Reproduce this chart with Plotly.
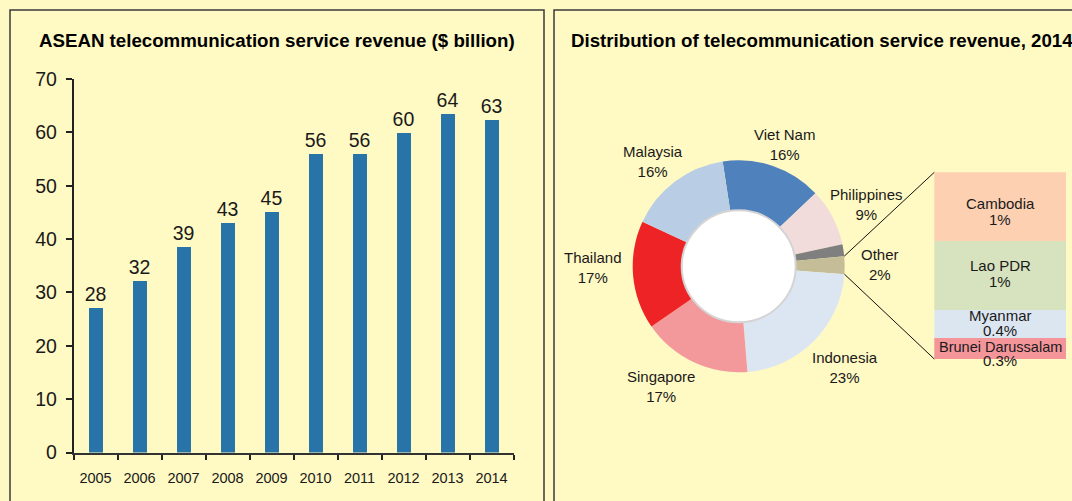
import math
import plotly.graph_objects as go

W, H = 1072, 501

# ---------------- data ----------------
years = ["2005", "2006", "2007", "2008", "2009", "2010", "2011", "2012", "2013", "2014"]
revenue = [27.0, 32.2, 38.6, 43.1, 45.0, 55.9, 55.9, 59.8, 63.4, 62.4]
revenue_labels = ["28", "32", "39", "43", "45", "56", "56", "60", "64", "63"]

pie_names = ["Viet Nam", "Philippines", "", "Other", "Indonesia", "Singapore", "Thailand", "Malaysia"]
pie_shares = [15.3, 8.8, 1.8, 2.7, 22.5, 16.7, 16.5, 15.7]
pie_pct_labels = ["16%", "9%", "", "2%", "23%", "17%", "17%", "16%"]
pie_colors = ["#4F81BD", "#F2DCDB", "#7F7F7F", "#C4BD97", "#DCE6F2", "#F4999B", "#EE2326", "#B9CDE5"]

other_names = ["Brunei Darussalam", "Myanmar", "Lao PDR", "Cambodia"]
other_shares = [0.3, 0.4, 1.0, 1.0]
other_pct_labels = ["0.3%", "0.4%", "1%", "1%"]
other_colors = ["#F4959A", "#DCE6F1", "#D7E2BE", "#FDD0B2"]

# ---------------- layout helpers ----------------
def px(x):
    return x / W

def py(y):
    return 1 - y / H

BG = "#FFF9C4"
FONT = "Liberation Sans, Arial, Helvetica, sans-serif"
TXT = "#1a1a1a"

fig = go.Figure()

# bar chart
fig.add_trace(go.Bar(
    x=years, y=revenue, text=revenue_labels, textposition="outside",
    constraintext="none",
    textfont=dict(size=19.5, color=TXT, family=FONT), cliponaxis=False,
    marker=dict(color="#2874A8", line=dict(width=0)), width=0.33,
    xaxis="x", yaxis="y", hoverinfo="skip", showlegend=False,
))

# donut
pie_cx, pie_cy, pie_r = 738.7, 266.3, 106
pie_rotation = -8.7
fig.add_trace(go.Pie(
    labels=[n if n else "Unlabelled" for n in pie_names], values=pie_shares,
    marker=dict(colors=pie_colors, line=dict(width=0)),
    hole=0.53, sort=False, direction="clockwise", rotation=pie_rotation,
    textinfo="none", hoverinfo="skip", showlegend=False, automargin=False,
    domain=dict(x=[px(pie_cx - pie_r), px(pie_cx + pie_r)],
                y=[py(pie_cy + pie_r), py(pie_cy - pie_r)]),
))

# bar of pie (stacked)
x2_dom = [px(934.3), px(1066)]
y2_dom = [py(359), py(172.3)]
for name, val, col in zip(other_names, other_shares, other_colors):
    fig.add_trace(go.Bar(
        x=[0], y=[val], width=1, marker=dict(color=col, line=dict(width=0)),
        xaxis="x2", yaxis="y2", hoverinfo="skip", showlegend=False, name=name,
    ))

annotations = []
# titles
annotations.append(dict(text="<b>ASEAN telecommunication service revenue ($ billion)</b>",
                        x=px(277), y=py(40), xref="paper", yref="paper",
                        xanchor="center", yanchor="middle", showarrow=False,
                        font=dict(size=18.7, color="#000", family=FONT)))
annotations.append(dict(text="<b>Distribution of telecommunication service revenue, 2014</b>",
                        x=px(569), y=py(40), xref="paper", yref="paper",
                        xanchor="left", yanchor="middle", showarrow=False,
                        font=dict(size=18.7, color="#000", family=FONT)))

# donut labels
label_pos = {
    "Viet Nam": (784, 144), "Philippines": (866, 205), "Other": (880, 264),
    "Indonesia": (845, 367), "Singapore": (661, 386), "Thailand": (593, 267),
    "Malaysia": (653, 161),
}
for name, pct in zip(pie_names, pie_pct_labels):
    if not name:
        continue
    lx, ly = label_pos[name]
    annotations.append(dict(text=f"{name}<br>{pct}", x=px(lx), y=py(ly),
                            xref="paper", yref="paper", xanchor="center", yanchor="middle",
                            showarrow=False, align="center",
                            font=dict(size=15, color=TXT, family=FONT)))

# stacked labels (small vertical nudges as in the original)
nudge = {"Brunei Darussalam": -5, "Myanmar": 1, "Lao PDR": 3, "Cambodia": -5}
gap = {"Brunei Darussalam": 7, "Myanmar": 7.5, "Lao PDR": 8, "Cambodia": 8}
cum = 0
for name, val, pct in zip(other_names, other_shares, other_pct_labels):
    mid = cum + val / 2
    cum += val
    fs = 14.5 if len(name) > 12 else 15
    annotations.append(dict(text=name, x=0, y=mid, xref="x2", yref="y2",
                            yshift=gap[name] + nudge[name], showarrow=False,
                            font=dict(size=fs, color=TXT, family=FONT)))
    annotations.append(dict(text=pct, x=0, y=mid, xref="x2", yref="y2",
                            yshift=-gap[name] + nudge[name], showarrow=False,
                            font=dict(size=15, color=TXT, family=FONT)))
other_total = cum

# connector lines from the "Other" slice edges
total = sum(pie_shares)
start_other = sum(pie_shares[:3]) / total * 360 + pie_rotation
end_other = sum(pie_shares[:4]) / total * 360 + pie_rotation

def edge(angle_deg):
    a = math.radians(angle_deg)
    return pie_cx + pie_r * math.sin(a), pie_cy - pie_r * math.cos(a)

sx, sy = edge(start_other)
ex, ey = edge(end_other)
shapes = [
    dict(type="line", xref="paper", yref="paper", x0=px(sx), y0=py(sy),
         x1=x2_dom[0], y1=y2_dom[1], line=dict(color="#111", width=1)),
    dict(type="line", xref="paper", yref="paper", x0=px(ex), y0=py(ey),
         x1=x2_dom[0], y1=y2_dom[0], line=dict(color="#111", width=1)),
    # white centre disc
    dict(type="circle", xref="paper", yref="paper", layer="above",
         x0=px(pie_cx - 57), x1=px(pie_cx + 57), y0=py(pie_cy + 56), y1=py(pie_cy - 56),
         fillcolor="white", line=dict(color="#d4d4d4", width=2)),
    # panel frames
    dict(type="rect", xref="paper", yref="paper", layer="below",
         x0=px(10), x1=px(544), y0=py(530), y1=py(10),
         line=dict(color="#3a3a3a", width=1.5)),
    dict(type="rect", xref="paper", yref="paper", layer="below",
         x0=px(554), x1=px(1110), y0=py(530), y1=py(10),
         line=dict(color="#3a3a3a", width=1.5)),
]

fig.update_layout(
    width=W, height=H, autosize=False,
    margin=dict(l=0, r=0, t=0, b=0, autoexpand=False),
    paper_bgcolor=BG, plot_bgcolor=BG,
    barmode="stack", bargap=0,
    font=dict(family=FONT, color=TXT),
    xaxis=dict(domain=[px(73.5), px(513.5)], type="category", range=[-0.5, 9.5],
               tickson="boundaries", ticks="outside", ticklen=5, tickwidth=2,
               tickcolor="#222", showline=True, linecolor="#333", linewidth=2,
               showgrid=False, zeroline=False, anchor="y", automargin=False,
               tickfont=dict(size=14.5, color=TXT, family=FONT), ticklabelstandoff=11,
               fixedrange=True),
    yaxis=dict(domain=[py(452.5), py(79)], range=[0, 70], dtick=10,
               ticks="outside", ticklen=6, tickwidth=2, tickcolor="#222",
               showline=True, linecolor="#222", linewidth=1.5,
               showgrid=False, zeroline=False, anchor="x", automargin=False,
               tickfont=dict(size=19.5, color=TXT, family=FONT), ticklabelstandoff=5,
               fixedrange=True),
    xaxis2=dict(domain=x2_dom, range=[-0.5, 0.5], visible=False, anchor="y2", automargin=False),
    yaxis2=dict(domain=y2_dom, range=[0, other_total], visible=False, anchor="x2", automargin=False),
    annotations=annotations,
    shapes=shapes,
)

fig.write_html(
    "out.html",
    config={"displayModeBar": False},
    post_script="document.body.style.margin='0px';document.documentElement.style.overflow='hidden';",
)
